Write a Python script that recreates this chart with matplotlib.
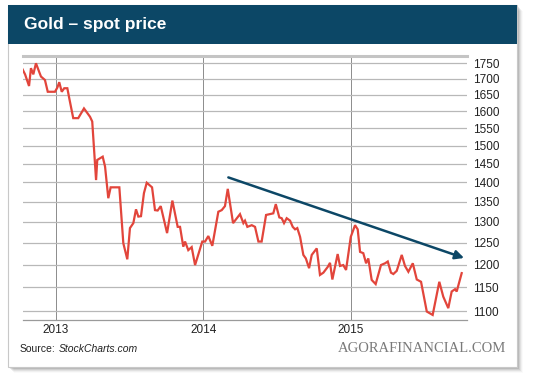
import numpy as np
import matplotlib
matplotlib.use("Agg")
from matplotlib import pyplot as plt
from matplotlib.patches import Rectangle

# gold spot price (decimal year, USD/oz)
years = [2012.767, 2012.790, 2012.817, 2012.830, 2012.846, 2012.864, 2012.885, 2012.898,
         2012.925, 2012.944, 2012.993, 2013.009, 2013.022, 2013.039, 2013.056, 2013.077,
         2013.090, 2013.117, 2013.151, 2013.190, 2013.231, 2013.246, 2013.272, 2013.280,
         2013.317, 2013.333, 2013.355, 2013.371, 2013.430, 2013.457, 2013.484, 2013.502,
         2013.525, 2013.543, 2013.559, 2013.577, 2013.597, 2013.616, 2013.652, 2013.672,
         2013.690, 2013.711, 2013.754, 2013.790, 2013.826, 2013.842, 2013.864, 2013.876,
         2013.898, 2013.921, 2013.944, 2013.993, 2014.012, 2014.034, 2014.061, 2014.102,
         2014.125, 2014.147, 2014.166, 2014.202, 2014.249, 2014.272, 2014.283, 2014.299,
         2014.329, 2014.351, 2014.374, 2014.396, 2014.426, 2014.475, 2014.492, 2014.516,
         2014.532, 2014.548, 2014.566, 2014.589, 2014.607, 2014.623, 2014.638, 2014.657,
         2014.679, 2014.696, 2014.718, 2014.736, 2014.770, 2014.792, 2014.815, 2014.845,
         2014.860, 2014.876, 2014.912, 2014.928, 2014.950, 2014.969, 2015.001, 2015.030,
         2015.048, 2015.064, 2015.086, 2015.105, 2015.120, 2015.143, 2015.170, 2015.206,
         2015.234, 2015.252, 2015.274, 2015.290, 2015.313, 2015.347, 2015.369, 2015.392,
         2015.422, 2015.449, 2015.478, 2015.517, 2015.557, 2015.602, 2015.629, 2015.663,
         2015.686, 2015.709, 2015.720, 2015.754]
prices = [1736, 1714, 1677, 1734, 1714, 1750, 1723, 1707,
          1696, 1659, 1659, 1672, 1689, 1659, 1670, 1670,
          1639, 1579, 1579, 1608, 1583, 1569, 1406, 1460,
          1469, 1442, 1359, 1387, 1387, 1249, 1212, 1285,
          1297, 1331, 1313, 1314, 1372, 1399, 1387, 1329,
          1328, 1339, 1273, 1353, 1288, 1288, 1241, 1253,
          1233, 1240, 1199, 1253, 1253, 1266, 1243, 1325,
          1329, 1339, 1383, 1297, 1319, 1297, 1303, 1288,
          1292, 1288, 1253, 1253, 1317, 1321, 1344, 1311,
          1309, 1297, 1309, 1303, 1288, 1282, 1285, 1264,
          1222, 1214, 1192, 1222, 1237, 1177, 1182, 1195,
          1204, 1167, 1224, 1197, 1199, 1188, 1264, 1292,
          1282, 1229, 1226, 1203, 1214, 1166, 1157, 1199,
          1203, 1207, 1182, 1179, 1186, 1222, 1197, 1184,
          1203, 1167, 1162, 1099, 1092, 1162, 1130, 1106,
          1141, 1146, 1141, 1181]

# trend arrow drawn on the chart
arrow_years = [2014.170, 2015.770]
arrow_prices = [1413, 1215]

y_ticks = list(range(1100, 1751, 50))
x_ticks = [2013, 2014, 2015]
x_labels = ["2013", "2014", "2015"]

W, H = 540, 380
NAVY = "#0c4766"
RED = "#e2453b"


def px_rect(x0, y0, x1, y1, **kw):
    # rectangle given in pixel coords (top-left origin) -> figure fraction
    return Rectangle((x0 / W, 1 - y1 / H), (x1 - x0) / W, (y1 - y0) / H,
                     transform=fig.transFigure, **kw)


fig = plt.figure(figsize=(W / 100, H / 100), dpi=100)
fig.patch.set_facecolor("white")

# card shadow + card + header bar
for i, a in enumerate([0.10, 0.08, 0.06, 0.04, 0.02]):
    fig.add_artist(px_rect(8 + i + 2, 5 + i + 2, 517 + i + 2, 367 + i + 2,
                           facecolor="black", alpha=a, edgecolor="none", zorder=0))
fig.add_artist(px_rect(8, 5, 517, 367, facecolor="white", edgecolor="#c8c8c8",
                       linewidth=0.8, zorder=1))
fig.add_artist(px_rect(8, 5, 517, 44, facecolor=NAVY, edgecolor="none", zorder=2))
fig.text(24 / W, 1 - 25 / H, "Gold \u2013 spot price", color="white", fontsize=12.5,
         fontweight="bold", family="Liberation Sans", va="center", ha="left", zorder=3)

ax = fig.add_axes([23 / W, 1 - 320 / H, (467 - 23) / W, (320 - 56) / H], zorder=4)
ax.patch.set_alpha(0)

ax.plot(years, prices, color=RED, linewidth=1.6, solid_joinstyle="miter", zorder=3)
ax.annotate("", xy=(arrow_years[1], arrow_prices[1]), xytext=(arrow_years[0], arrow_prices[0]),
            arrowprops=dict(arrowstyle="-|>", color=NAVY, lw=1.8, mutation_scale=13,
                            shrinkA=0, shrinkB=0), zorder=4)

ax.set_yscale("log")
ax.set_ylim(1081.7, 1774)
ax.set_xlim(2012.776, 2015.790)

ax.yaxis.set_major_locator(matplotlib.ticker.FixedLocator(y_ticks))
ax.yaxis.set_minor_locator(matplotlib.ticker.NullLocator())
ax.yaxis.set_major_formatter(matplotlib.ticker.FixedFormatter([str(v) for v in y_ticks]))
ax.yaxis.tick_right()
ax.set_xticks(x_ticks)
ax.set_xticklabels(x_labels)
ax.tick_params(axis="y", length=0, pad=4, labelsize=8.5, labelcolor="#222222")
ax.tick_params(axis="x", length=0, pad=3, labelsize=8.5, labelcolor="#222222")
for lab in ax.get_xticklabels() + ax.get_yticklabels():
    lab.set_family("Liberation Sans")

ax.grid(axis="y", color="#b8b8b8", linewidth=0.9)
ax.grid(axis="x", color="#8c8c8c", linewidth=0.7)
ax.set_axisbelow(True)

for side in ["left", "right"]:
    ax.spines[side].set_visible(False)
ax.spines["top"].set_color("#c4c4c4")
ax.spines["top"].set_linewidth(2.2)
ax.spines["bottom"].set_color("#9a9a9a")
ax.spines["bottom"].set_linewidth(0.9)

# source line: regular "Source:" followed by the italic site name
src = fig.text(20 / W, 1 - 349 / H, "Source:", fontsize=7.5, family="Liberation Sans",
               va="center", ha="left", color="#222222", zorder=5)
fig.canvas.draw()
bb = src.get_window_extent(renderer=fig.canvas.get_renderer())
fig.text((bb.x1 + 3) / W, 1 - 349 / H, "StockCharts.com", fontsize=7.5, style="italic",
         family="Liberation Sans", va="center", ha="left", color="#222222", zorder=5)
fig.text(506 / W, 1 - 349 / H, "AGORAFINANCIAL.COM", fontsize=10.5,
         family="Liberation Serif", va="center", ha="right", color="#7a7a7a", zorder=5)

plt.savefig("out.png", dpi=100)
